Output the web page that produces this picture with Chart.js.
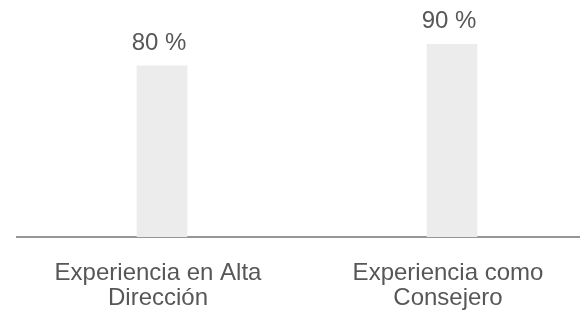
<!DOCTYPE html>
<html>
<head>
<meta charset="utf-8">
<script src="https://cdn.jsdelivr.net/npm/chart.js@4"></script>
<style>
  html, body { margin: 0; padding: 0; background: #fff; overflow: hidden; }
  #wrap { width: 597px; height: 315px; }
</style>
</head>
<body>
<div id="wrap"><canvas id="chart"></canvas></div>
<script>
const categories = [['Experiencia en Alta', 'Dirección'], ['Experiencia como', 'Consejero']];
const values = [80, 90];
const valueLabels = ['80 %', '90 %'];

const textColor = '#575757';
const fontFamily = '"Liberation Sans", Arial, sans-serif';

// draws the "80 %" labels over each bar
const valueLabelPlugin = {
    id: 'valueLabels',
    afterDatasetsDraw(chart) {
        const ctx = chart.ctx;
        const meta = chart.getDatasetMeta(0);
        ctx.save();
        ctx.fillStyle = textColor;
        ctx.font = '24px ' + fontFamily;
        ctx.textAlign = 'center';
        ctx.textBaseline = 'alphabetic';
        meta.data.forEach((bar, i) => {
            ctx.fillText(valueLabels[i], bar.x - 3, bar.y - 16);
        });
        ctx.restore();
    }
};

const ctx = document.getElementById('chart').getContext('2d');
new Chart(ctx, {
    type: 'bar',
    data: {
        labels: categories,
        datasets: [{
            data: values,
            backgroundColor: '#ececec',
            barThickness: 50,
            borderWidth: 0
        }]
    },
    options: {
        responsive: true,
        maintainAspectRatio: false,
        animation: false,
        layout: { padding: { left: 17, right: 0, top: 23, bottom: 0 } },
        plugins: {
            legend: { display: false },
            tooltip: { enabled: false }
        },
        scales: {
            x: {
                grid: { display: false, drawTicks: false },
                border: { display: true, color: '#969696', width: 2 },
                afterFit(scale) {
                    scale.height = 78;
                },
                ticks: {
                    color: textColor,
                    font: { family: fontFamily, size: 24, lineHeight: 1.05 },
                    padding: 24,
                    labelOffset: -4,
                    maxRotation: 0,
                    autoSkip: false
                }
            },
            y: {
                display: false,
                min: 0,
                max: 100
            }
        }
    },
    plugins: [valueLabelPlugin]
});
</script>
</body>
</html>
